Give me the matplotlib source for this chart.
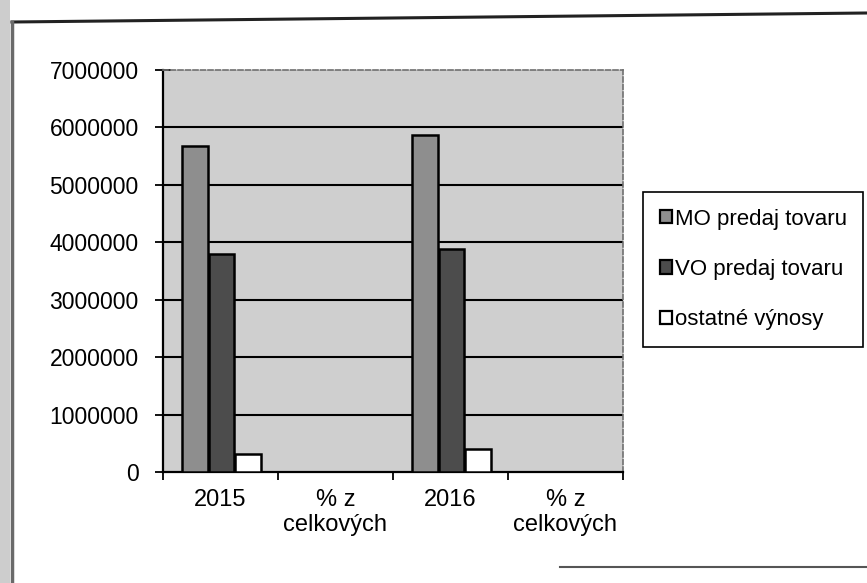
import numpy as np
import matplotlib
matplotlib.use("Agg")
import matplotlib.pyplot as plt
from matplotlib.lines import Line2D
from matplotlib.patches import Rectangle

plt.rcParams['font.family'] = ['Liberation Sans', 'DejaVu Sans']

categories = ["2015", "% z\ncelkových", "2016", "% z\ncelkových"]
series_names = ["MO predaj tovaru", "VO predaj tovaru", "ostatné výnosy"]
mo_values = [5680000, 58, 5860000, 58]
vo_values = [3800000, 39, 3890000, 38]
ost_values = [310000, 3, 400000, 4]
y_ticks = [0, 1000000, 2000000, 3000000, 4000000, 5000000, 6000000, 7000000]

W, H = 867, 583
fig = plt.figure(figsize=(W / 100, H / 100), dpi=100)
fig.patch.set_facecolor('white')

def fx(px):
    return px / W

def fy(py):
    return 1 - py / H

# scanner strip and chart frame
fig.patches.append(Rectangle((0, 0), fx(10), 1, transform=fig.transFigure,
                             facecolor='#cdcdcd', edgecolor='none', zorder=0))
fig.lines.append(Line2D([fx(12), fx(867)], [fy(22), fy(13)], transform=fig.transFigure,
                        color='#222222', lw=2.2))
fig.lines.append(Line2D([fx(12), fx(12)], [fy(22), fy(583)], transform=fig.transFigure,
                        color='#6a6a6a', lw=2.5))
fig.lines.append(Line2D([fx(560), fx(867)], [fy(567), fy(567)], transform=fig.transFigure,
                        color='#555555', lw=1.5))

ax = fig.add_axes([fx(163), fy(472), fx(623 - 163), (472 - 70) / H])
ax.set_facecolor('#cfcfcf')

x = np.arange(len(categories))
w = 0.222
colors = ['#8e8e8e', '#4c4c4c', '#ffffff']
for i, (vals, name, c) in enumerate(zip([mo_values, vo_values, ost_values], series_names, colors)):
    ax.bar(x + 0.01 + (i - 1) * (w + 0.008), vals, width=w, color=c, edgecolor='black',
           linewidth=1.8, label=name, zorder=3)

ax.set_xlim(-0.5, len(categories) - 0.5)
ax.set_ylim(0, 7000000)
ax.set_yticks(y_ticks)
ax.set_yticklabels([str(v) for v in y_ticks])
ax.set_xticks(x)
ax.set_xticklabels(categories, linespacing=1.2)
ax.set_xticks(np.arange(-0.5, len(categories)), minor=True)

ax.tick_params(axis='x', which='major', length=0, pad=12, labelsize=17)
ax.tick_params(axis='x', which='minor', length=6, width=1.3, direction='out', color='black')
ax.tick_params(axis='y', length=12, width=1.3, direction='inout', pad=11.5, labelsize=16.5,
               colors='black')

ax.set_axisbelow(True)
ax.yaxis.grid(True, color='black', linewidth=1.5)
ax.xaxis.grid(False)
gl = ax.yaxis.get_gridlines()
gl[-1].set_visible(False)
gl[0].set_visible(False)

for s in ['left', 'bottom']:
    ax.spines[s].set_color('black')
    ax.spines[s].set_linewidth(1.6)
for s in ['top', 'right']:
    ax.spines[s].set_color('#6f6f6f')
    ax.spines[s].set_linewidth(1.2)
    ax.spines[s].set_linestyle((0, (3, 1.5)))

leg = fig.legend(loc='upper left', bbox_to_anchor=(fx(643), fy(192)),
                 bbox_transform=fig.transFigure, fontsize=16, frameon=True,
                 fancybox=False, edgecolor='black', framealpha=1,
                 handlelength=0.55, handleheight=0.55, handletextpad=0.12,
                 labelspacing=1.32, borderpad=0.75, borderaxespad=0)
leg.get_frame().set_linewidth(1.2)
for p in leg.get_patches():
    p.set_linewidth(1.6)

fig.savefig('out.png', dpi=100)
